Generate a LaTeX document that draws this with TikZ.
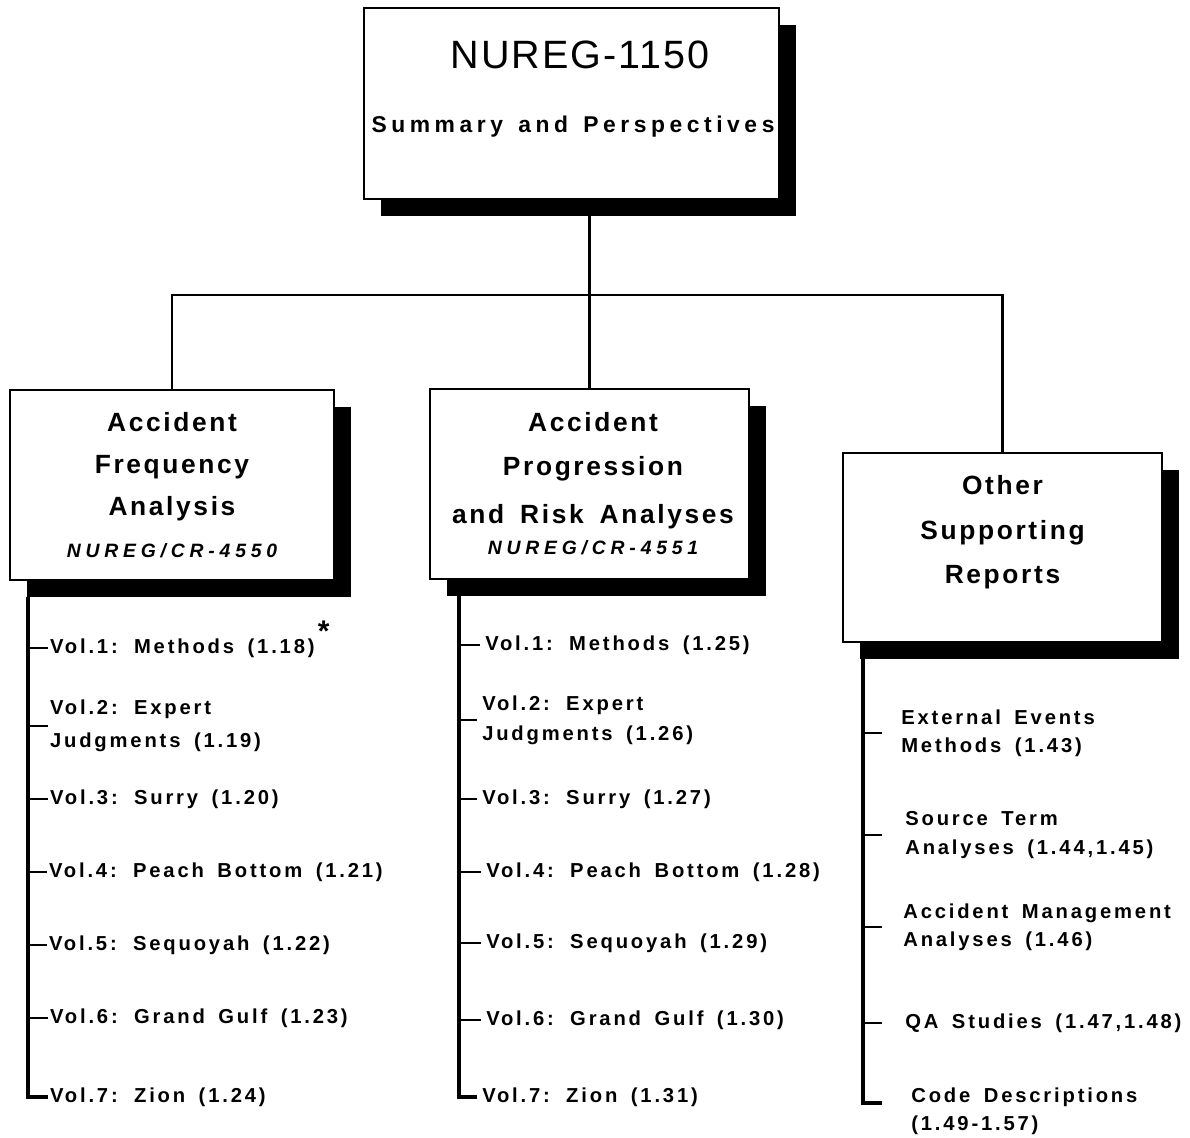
\documentclass[tikz,border=0pt]{standalone}
\usepackage{fontspec}
\setmainfont{Liberation Sans}
\newfontfamily\TitleFont[LetterSpace=5]{Liberation Sans}
\newfontfamily\BoxFont[LetterSpace=10,WordSpace=1.6]{Liberation Sans}
\newfontfamily\SubFont[LetterSpace=20,WordSpace=1.4]{Liberation Sans}
\newfontfamily\CRFont[LetterSpace=25]{Liberation Sans}
\newfontfamily\ListFont[LetterSpace=14,WordSpace=1.6]{Liberation Sans}
\usetikzlibrary{calc,shadows}
\definecolor{ShadowClr}{rgb}{0,0,0}
\definecolor{LineClr}{rgb}{0,0,0}

\begin{document}
\begin{tikzpicture}[x=0.02cm,y=-0.02cm,
  box/.style={draw=LineClr,line width=1.2pt,fill=white,minimum height=3.8cm,
    drop shadow={shadow xshift=0.34cm,shadow yshift=-0.34cm,fill=ShadowClr,opacity=1}},
  boxtext/.style={align=center,font=\BoxFont\bfseries\fontsize{15}{24}\selectfont},
  litem/.style={anchor=west,align=left,inner xsep=1pt,font=\ListFont\bfseries\fontsize{11.5}{19}\selectfont},
  mitem/.style={litem,inner xsep=2.8pt,font=\ListFont\bfseries\fontsize{11.5}{17}\selectfont},
  ritem/.style={litem,inner xsep=0.42cm,font=\ListFont\bfseries\fontsize{11.5}{16}\selectfont},
  branch/.style={line width=1.4pt,color=LineClr},
  trunk/.style={line width=1.8pt,color=LineClr}]
\useasboundingbox (0,0) rectangle (1190,1138);

\node[box,minimum width=8.3cm,minimum height=3.82cm] (top) at (571.5,103.5) {};
\node[font=\TitleFont\fontsize{22.5}{26}\selectfont] (topnum) at (580,55) {NUREG-1150};
\node[font=\SubFont\bfseries\fontsize{13}{15}\selectfont] (topname) at (573,127) {Summary and Perspectives};

\node[box,minimum width=6.48cm] (left) at (172,485) {};
\node[boxtext] (lefttitle) at (left) {Accident\\Frequency\\Analysis\\{\CRFont\bfseries\itshape\fontsize{11}{24}\selectfont NUREG/CR-4550}};

\node[box,minimum width=6.38cm] (mid) at (589.5,484) {};
\node[boxtext,font=\BoxFont\bfseries\fontsize{15}{25}\selectfont] (midtitle) at (593,484) {Accident\\Progression\\[2pt]and Risk Analyses\\[-7pt]{\CRFont\bfseries\itshape\fontsize{11}{24}\selectfont NUREG/CR-4551}};

\node[box,minimum width=6.38cm,minimum height=3.78cm] (right) at (1002.5,547.5) {};
\node[boxtext,font=\BoxFont\bfseries\fontsize{15}{25.4}\selectfont] (righttitle) at (1002.5,532.5) {Other\\Supporting\\Reports};

\coordinate (bus) at (588,295);
\draw[branch] (top.south -| mid.north) -- (mid.north);
\draw[branch] (left.north) |- (bus) -| (right.north);

\coordinate (ltrunk) at (28,597);
\node[litem] (l1) at (48,648) {Vol.1: Methods (1.18)\,\raisebox{1.1ex}[0pt][0pt]{\fontsize{17}{17}\selectfont *}};
\node[litem] (l2) at (48,726) {Vol.2: Expert\\Judgments (1.19)};
\node[litem] (l3) at (48,799) {Vol.3: Surry (1.20)};
\node[litem] (l4) at (47,872) {Vol.4: Peach Bottom (1.21)};
\node[litem] (l5) at (47,945) {Vol.5: Sequoyah (1.22)};
\node[litem] (l6) at (48,1018) {Vol.6: Grand Gulf (1.23)};
\node[litem] (l7) at (48,1097) {Vol.7: Zion (1.24)};
\draw[trunk] (ltrunk) |- (l7.west);
\draw[branch] (ltrunk |- l1.west) -- (l1.west);
\draw[branch] (ltrunk |- l2.west) -- (l2.west);
\draw[branch] (ltrunk |- l3.west) -- (l3.west);
\draw[branch] (ltrunk |- l4.west) -- (l4.west);
\draw[branch] (ltrunk |- l5.west) -- (l5.west);
\draw[branch] (ltrunk |- l6.west) -- (l6.west);

\coordinate (mtrunk) at (459,596);
\node[mitem] (m1) at (480,645) {Vol.1: Methods (1.25)};
\node[mitem] (m2) at (477,720) {Vol.2: Expert\\Judgments (1.26)};
\node[mitem] (m3) at (477,799) {Vol.3: Surry (1.27)};
\node[mitem] (m4) at (481,872) {Vol.4: Peach Bottom (1.28)};
\node[mitem] (m5) at (481,943) {Vol.5: Sequoyah (1.29)};
\node[mitem] (m6) at (481,1020) {Vol.6: Grand Gulf (1.30)};
\node[mitem] (m7) at (477,1097) {Vol.7: Zion (1.31)};
\draw[trunk] (mtrunk) |- (m7.west);
\draw[branch] (mtrunk |- m1.west) -- (m1.west);
\draw[branch] (mtrunk |- m2.west) -- (m2.west);
\draw[branch] (mtrunk |- m3.west) -- (m3.west);
\draw[branch] (mtrunk |- m4.west) -- (m4.west);
\draw[branch] (mtrunk |- m5.west) -- (m5.west);
\draw[branch] (mtrunk |- m6.west) -- (m6.west);

\coordinate (rtrunk) at (863,658);
\node[ritem] (r1) at (880,733) {External Events\\Methods (1.43)};
\node[ritem] (r2) at (884,835) {Source Term\\Analyses (1.44,1.45)};
\node[ritem] (r3) at (882,927) {Accident Management\\Analyses (1.46)};
\node[ritem] (r4) at (884,1023) {QA Studies (1.47,1.48)};
\node[ritem] (r5) at (890,1111) {Code Descriptions\\(1.49-1.57)};
\coordinate (r5tick) at ($(r5.west)+(-8,-8)$);
\draw[trunk] (rtrunk) |- (r5tick);
\draw[branch] (rtrunk |- r1.west) -- ++(19,0);
\draw[branch] (rtrunk |- r2.west) -- ++(19,0);
\draw[branch] (rtrunk |- r3.west) -- ++(19,0);
\draw[branch] (rtrunk |- r4.west) -- ++(19,0);

\end{tikzpicture}
\end{document}
